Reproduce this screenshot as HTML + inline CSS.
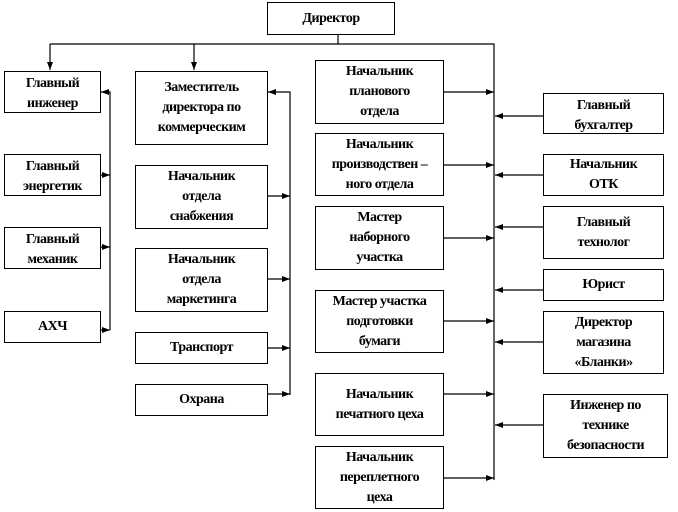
<!DOCTYPE html>
<html><head><meta charset="utf-8"><style>
html,body{margin:0;padding:0;background:#fff;width:678px;height:512px;overflow:hidden}
.b{position:absolute;border:1px solid #000;box-sizing:border-box;background:#fff;font-family:"Liberation Serif","DejaVu Serif",serif;font-weight:bold;font-size:14px;line-height:20px;text-align:center;overflow:hidden;display:flex;flex-direction:column;justify-content:center;letter-spacing:-0.5px}
svg{position:absolute;left:0;top:0}
</style></head><body>
<svg width="678" height="512">
<defs><marker id="a" markerWidth="8" markerHeight="6" refX="8" refY="3" orient="auto" markerUnits="userSpaceOnUse"><path d="M0,0L8,3L0,6z" fill="#000"/></marker></defs>
<g stroke="#000" stroke-width="1.2" fill="none">
<path d="M338,34V44M50,44H494V480"/>
<path d="M50,44V70" marker-end="url(#a)"/>
<path d="M194,44V70" marker-end="url(#a)"/>
<path d="M110,330V92H101" marker-end="url(#a)"/>
<path d="M100,175H110" marker-end="url(#a)"/>
<path d="M100,247H110" marker-end="url(#a)"/>
<path d="M100,330H110" marker-end="url(#a)"/>
<path d="M290,395V92H268" marker-end="url(#a)"/>
<path d="M267,196H290" marker-end="url(#a)"/>
<path d="M267,279H290" marker-end="url(#a)"/>
<path d="M267,348H290" marker-end="url(#a)"/>
<path d="M267,394H290" marker-end="url(#a)"/>
<path d="M443,92H494" marker-end="url(#a)"/>
<path d="M443,165H494" marker-end="url(#a)"/>
<path d="M443,238H494" marker-end="url(#a)"/>
<path d="M443,321H494" marker-end="url(#a)"/>
<path d="M443,394H494" marker-end="url(#a)"/>
<path d="M443,478H494" marker-end="url(#a)"/>
<path d="M543,116H495" marker-end="url(#a)"/>
<path d="M543,175H495" marker-end="url(#a)"/>
<path d="M543,227H495" marker-end="url(#a)"/>
<path d="M543,290H495" marker-end="url(#a)"/>
<path d="M543,342H495" marker-end="url(#a)"/>
<path d="M543,425H495" marker-end="url(#a)"/>
</g></svg>
<div class="b" style="left:267px;top:2px;width:128px;height:33px">Директор</div>
<div class="b" style="left:4px;top:71px;width:97px;height:42px;justify-content:flex-start;padding-top:2px">Главный<br>инженер</div>
<div class="b" style="left:4px;top:154px;width:97px;height:42px;justify-content:flex-start;padding-top:2px">Главный<br>энергетик</div>
<div class="b" style="left:4px;top:227px;width:97px;height:42px;justify-content:flex-start;padding-top:2px">Главный<br>механик</div>
<div class="b" style="left:4px;top:311px;width:97px;height:32px">АХЧ</div>
<div class="b" style="left:135px;top:71px;width:133px;height:74px">Заместитель<br>директора по<br>коммерческим</div>
<div class="b" style="left:135px;top:165px;width:133px;height:64px">Начальник<br>отдела<br>снабжения</div>
<div class="b" style="left:135px;top:248px;width:133px;height:64px">Начальник<br>отдела<br>маркетинга</div>
<div class="b" style="left:135px;top:332px;width:133px;height:32px">Транспорт</div>
<div class="b" style="left:135px;top:384px;width:133px;height:32px">Охрана</div>
<div class="b" style="left:315px;top:60px;width:129px;height:64px">Начальник<br>планового<br>отдела</div>
<div class="b" style="left:315px;top:133px;width:129px;height:63px">Начальник<br>производствен –<br>ного отдела</div>
<div class="b" style="left:315px;top:206px;width:129px;height:64px">Мастер<br>наборного<br>участка</div>
<div class="b" style="left:315px;top:290px;width:129px;height:63px">Мастер участка<br>подготовки<br>бумаги</div>
<div class="b" style="left:315px;top:373px;width:129px;height:63px">Начальник<br>печатного цеха</div>
<div class="b" style="left:315px;top:446px;width:129px;height:63px">Начальник<br>переплетного<br>цеха</div>
<div class="b" style="left:543px;top:93px;width:121px;height:41px;justify-content:flex-start;padding-top:2px">Главный<br>бухгалтер</div>
<div class="b" style="left:543px;top:154px;width:121px;height:42px">Начальник<br>ОТК</div>
<div class="b" style="left:543px;top:206px;width:121px;height:53px">Главный<br>технолог</div>
<div class="b" style="left:543px;top:269px;width:121px;height:32px">Юрист</div>
<div class="b" style="left:543px;top:311px;width:121px;height:63px">Директор<br>магазина<br>«Бланки»</div>
<div class="b" style="left:543px;top:394px;width:125px;height:64px">Инженер по<br>технике<br>безопасности</div>
</body></html>
